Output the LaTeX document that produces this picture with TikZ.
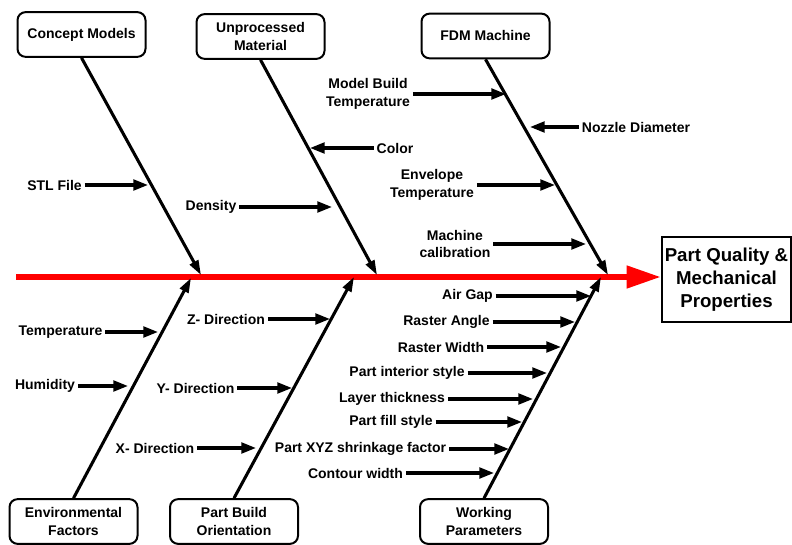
\documentclass[tikz,border=0pt]{standalone}
\usepackage{fontspec}
\setmainfont{Liberation Sans}
\usetikzlibrary{arrows.meta}

\begin{document}
\begin{tikzpicture}[
    x=0.75pt, y=-0.75pt,
    box/.style={rectangle, draw, rounded corners=6pt, line width=1.5pt, align=center, minimum width=96pt, minimum height=33.5pt, font=\fontsize{10.5}{13}\selectfont\bfseries},
    effect/.style={rectangle, draw, line width=1.5pt, align=center, inner sep=1pt, minimum width=96.5pt, minimum height=63.5pt, font=\fontsize{14}{17.25}\selectfont\bfseries},
    cause/.style={align=center, inner sep=2pt, font=\fontsize{10.5}{13}\selectfont\bfseries},
    bone/.style={-{Triangle[length=11pt, width=7pt]}, line width=2.3pt},
    arrow/.style={-{Triangle[length=11pt, width=8pt]}, line width=2.3pt},
    spine/.style={-{Triangle[length=26pt, width=16pt]}, line width=5pt, red}
]
\useasboundingbox (0,0) rectangle (792,545);

% Effect and spine
\node[effect] (effect) at (726.5,279.5) {Part Quality \&\\Mechanical\\Properties};
\coordinate (tail) at (16,277);

% Category Nodes
\node[box] (concept) at (81.5,34.5) {Concept Models};
\node[box] (material) at (260.5,36.5) {Unprocessed\\Material};
\node[box] (fdm) at (485.5,36) {FDM Machine};
\node[box] (env) at (73.5,521.5) {Environmental\\Factors};
\node[box] (orient) at (234,521.5) {Part Build\\Orientation};
\node[box] (work) at (484,521.5) {Working\\Parameters};

% Bone ends on the spine
\coordinate (concept-end) at (201,275);
\coordinate (material-end) at (377,275);
\coordinate (fdm-end) at (608,275);
\coordinate (env-end) at (191,278);
\coordinate (orient-end) at (354,277);
\coordinate (work-end) at (601,277);

% Cause Nodes
\node[cause] (stl) at (54.5,185) {STL File};
\node[cause] (color) at (395,148) {Color};
\node[cause] (density) at (211,207) {Density};
\node[cause] (buildtemp) at (368,94) {Model Build\\Temperature};
\node[cause] (nozzle) at (636,127) {Nozzle Diameter};
\node[cause] (envtemp) at (432,185) {Envelope\\Temperature};
\node[cause] (calib) at (455,244) {Machine\\calibration};
\node[cause] (temp) at (60.5,332) {Temperature};
\node[cause] (humid) at (45,386) {Humidity};
\node[cause] (zdir) at (226,319) {Z- Direction};
\node[cause] (ydir) at (195.5,388) {Y- Direction};
\node[cause] (xdir) at (155,448) {X- Direction};
\node[cause] (airgap) at (467.5,296) {Air Gap};
\node[cause] (rangle) at (446.5,322) {Raster Angle};
\node[cause] (rwidth) at (441,347) {Raster Width};
\node[cause] (interior) at (407,373) {Part interior style};
\node[cause] (layer) at (392,399) {Layer thickness};
\node[cause] (fill) at (391,422) {Part fill style};
\node[cause] (shrink) at (360.5,449) {Part XYZ shrinkage factor};
\node[cause] (contour) at (355.5,473) {Contour width};

% Cause tips on the bones
\coordinate (stl-tip) at (148,185);
\coordinate (color-tip) at (310,148);
\coordinate (density-tip) at (332,207);
\coordinate (buildtemp-tip) at (506,94);
\coordinate (nozzle-tip) at (530,127);
\coordinate (envtemp-tip) at (555,185);
\coordinate (calib-tip) at (586,244);
\coordinate (temp-tip) at (158,332);
\coordinate (humid-tip) at (128,386);
\coordinate (zdir-tip) at (330,319);
\coordinate (ydir-tip) at (292,388);
\coordinate (xdir-tip) at (256,448);
\coordinate (airgap-tip) at (591,296);
\coordinate (rangle-tip) at (575,322);
\coordinate (rwidth-tip) at (561,347);
\coordinate (interior-tip) at (547,373);
\coordinate (layer-tip) at (533,399);
\coordinate (fill-tip) at (522,422);
\coordinate (shrink-tip) at (509,449);
\coordinate (contour-tip) at (494,473);

% Spine
\draw[spine] (tail) -- (tail -| effect.west);

% Bones
\draw[bone] (concept.south) -- (concept-end);
\draw[bone] (material.south) -- (material-end);
\draw[bone] (fdm.south) -- (fdm-end);
\draw[bone] (env.north) -- (env-end);
\draw[bone] (orient.north) -- (orient-end);
\draw[bone] (work.north) -- (work-end);

% Connecting arrows
\draw[arrow] (stl) -- (stl-tip);
\draw[arrow] (color) -- (color-tip);
\draw[arrow] (density) -- (density-tip);
\draw[arrow] (buildtemp) -- (buildtemp-tip);
\draw[arrow] (nozzle) -- (nozzle-tip);
\draw[arrow] (envtemp) -- (envtemp-tip);
\draw[arrow] (calib) -- (calib-tip);
\draw[arrow] (temp) -- (temp-tip);
\draw[arrow] (humid) -- (humid-tip);
\draw[arrow] (zdir) -- (zdir-tip);
\draw[arrow] (ydir) -- (ydir-tip);
\draw[arrow] (xdir) -- (xdir-tip);
\draw[arrow] (airgap) -- (airgap-tip);
\draw[arrow] (rangle) -- (rangle-tip);
\draw[arrow] (rwidth) -- (rwidth-tip);
\draw[arrow] (interior) -- (interior-tip);
\draw[arrow] (layer) -- (layer-tip);
\draw[arrow] (fill) -- (fill-tip);
\draw[arrow] (shrink) -- (shrink-tip);
\draw[arrow] (contour) -- (contour-tip);

\end{tikzpicture}
\end{document}
